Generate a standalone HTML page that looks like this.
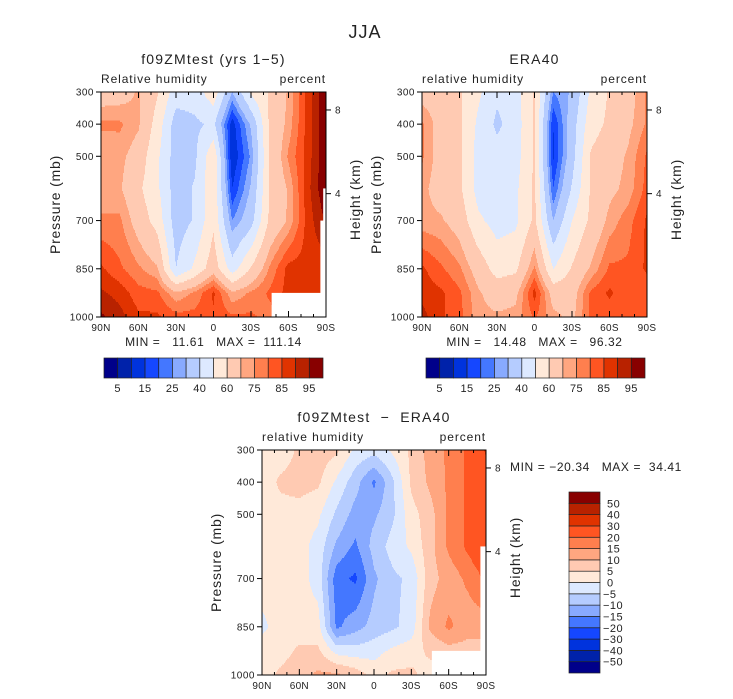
<!DOCTYPE html>
<html><head><meta charset="utf-8">
<style>
body{margin:0;background:#fff;}
svg{display:block;font-family:"Liberation Sans",sans-serif;}
text{fill:#222;white-space:pre;}
</style></head>
<body>
<svg id="root" width="733" height="699" viewBox="0 0 733 699" xmlns="http://www.w3.org/2000/svg">
<text x="365" y="38" font-size="18" letter-spacing="1" text-anchor="middle">JJA</text>
</svg>
<script>
// ---- data ----
const lats = ["90N","75N","60N","45N","30N","15N","0","15S","30S","45S","60S","75S","90S"];
const levels = [300,400,500,600,700,850,925,1000];
const latLabels = ["90N","60N","30N","0","30S","60S","90S"];
const pLabels = [300,400,500,700,850,1000];
const hLabels = [8,4];
const rhBounds = [5,10,15,20,25,30,40,50,60,70,75,80,85,90,95];
const rhTickLabels = ["5","15","25","40","60","75","85","95"];
const diffBounds = [-50,-40,-30,-20,-15,-10,-5,0,5,10,15,20,30,40,50];
const diffTickLabels = ["-50","-40","-30","-20","-15","-10","-5","0","5","10","15","20","30","40","50"];
const palette = ["#00008a","#0022aa","#0033dd","#1547ff","#4477ff","#88aaff","#b5ccff","#dde9ff","#ffe9d9","#ffcab2","#ffa680","#ff7f4e","#ff5522","#e03300","#b82200","#880000"];
// rows: latitude (90N..90S), cols: pressure levels
const model = [
 [65,76,71,71,76,86,91,96],[66,76,72,71,76,81,88,92],[71,71,66,62,66,76,82,86],
 [61,56,52,52,56,71,81,86],[45,35,35,35,35,40,71,82],[45,38,38,41,41,52,76,82],
 [56,42,58,58,58,66,86,84],[30,12,10,15,25,45,71,81],[52,31,26,31,36,61,76,81],
 [61,62,61,61,62,76,81,78],[71,72,76,71,71,87,87,81],[87,87,87,88,87,87,87,82],
 [100,100,100,100,96,87,87,82]];
const era = [
 [66,76,76,72,72,86,88,92],[66,66,66,66,71,81,86,86],[61,62,62,62,66,76,81,82],
 [52,48,46,46,52,66,71,72],[42,38,44,45,46,56,66,71],[46,45,46,48,48,58,68,72],
 [61,61,61,62,62,76,87,81],[25,15,14,20,30,50,66,72],[31,35,36,41,50,61,66,68],
 [52,56,61,61,62,71,81,81],[61,62,66,68,72,81,86,82],[66,68,71,72,78,81,81,82],
 [76,76,81,82,86,86,82,81]];
const diff = [
 [2,2,2,2,2,-1,2,3],[2,6,3,2,2,2,3,6],[6,7,3,2,2,2,6,8],
 [8,6,1,-2,-2,2,6,11],[6,-1,-6,-11,-18,-16,-2,11],[-1,-8,-12,-16,-21,-12,-3,8],
 [-3,-16,-11,-8,-11,-8,-2,3],[1,-6,-6,-3,-6,-6,1,6],[6,6,3,1,-4,-3,3,6],
 [12,11,8,8,8,11,6,3],[16,16,16,16,12,16,8,6],[21,21,21,21,16,12,8,6],
 [31,26,26,26,21,12,8,6]];
// missing-data regions: [lat index from, lat index to, p from, p to]
const missing1 = [[9.1,12,925,1000],[11.7,12,700,1000],[11.85,12,600,1000]];
const missing3 = [[9.1,12,925,1000],[11.7,12,600,1000]];

const NS="http://www.w3.org/2000/svg";
const root=document.getElementById('root');
function mk(tag,attrs,parent){const e=document.createElementNS(NS,tag);for(const k in attrs)e.setAttribute(k,attrs[k]);(parent||root).appendChild(e);return e;}
function txt(s,x,y,size,anchor,parent,ls){const t=mk('text',{x:x,y:y,'font-size':size,'text-anchor':anchor||'middle','letter-spacing':ls||0},parent);t.textContent=s;return t;}
function levelIndex(v,b){let i=0;while(i<b.length&&v>=b[i])i++;return i;}
function interp(field,fi,p){
  let i0=Math.min(Math.floor(fi),lats.length-2);let ti=fi-i0;
  let j0=0;while(j0<levels.length-2&&p>levels[j0+1])j0++;
  let tj=(p-levels[j0])/(levels[j0+1]-levels[j0]);tj=Math.max(0,Math.min(1,tj));
  const a=field[i0][j0],b=field[i0+1][j0],c=field[i0][j0+1],d=field[i0+1][j0+1];
  return a*(1-ti)*(1-tj)+b*ti*(1-tj)+c*(1-ti)*tj+d*ti*tj;
}
function heightToP(h){return 1013*Math.pow(1-2.2557e-5*h*1000,5.256);}
function panel(o){
  const g=mk('g',{});
  
  
  const X=fi=>o.x0+fi/(lats.length-1)*(o.x1-o.x0);
  const Y=p=>o.y0+(p-300)/700*(o.y1-o.y0);
  const Xinv=x=>(x-o.x0)/(o.x1-o.x0)*(lats.length-1);
  const Yinv=y=>300+(y-o.y0)/(o.y1-o.y0)*700;
  const fill=mk('g',{'shape-rendering':'crispEdges'},g);
  
  
  const step=1.5;
  for(let y=o.y0;y<o.y1;y+=step){
    const p=Yinv(y+step/2);let runStart=o.x0,runC=null;
    for(let x=o.x0;x<=o.x1;x+=1){
      let c=null;
      if(x<o.x1){c=levelIndex(interp(o.field,Math.min(Xinv(x+0.5),lats.length-1),p),o.bounds);}
      if(c!==runC){
        if(runC!==null){mk('rect',{x:runStart,y:y,width:x-runStart,height:step+0.3,fill:palette[runC]},fill);}
        runStart=x;runC=c;
      }
    }
  }
  (o.missing||[]).forEach(m=>{
    const r=mk('rect',{x:X(m[0]),y:Y(m[2]),width:X(m[1])-X(m[0])+1,height:Y(m[3])-Y(m[2])+1,fill:'#fff'},g);
    
    
  });
  const frame=mk('rect',{x:o.x0,y:o.y0,width:o.x1-o.x0,height:o.y1-o.y0,fill:'none',stroke:'#000','stroke-width':1},g);
  
  
  for(let k=0;k<=18;k++){
    const x=o.x0+k/18*(o.x1-o.x0);const major=k%3===0;
    mk('line',{x1:x,x2:x,y1:o.y0,y2:o.y0+(major?6:3),stroke:'#000'},g);
    mk('line',{x1:x,x2:x,y1:o.y1,y2:o.y1-(major?6:3),stroke:'#000'},g);
  }
  latLabels.forEach((s,k)=>{const t=txt(s,X(k*2),o.y1+14,10,'middle',g,0.3);
    });
  pLabels.forEach(p=>{mk('line',{x1:o.x0-5,x2:o.x0,y1:Y(p),y2:Y(p),stroke:'#000'},g);
    const t=txt(String(p),o.x0-7,Y(p)+3.5,10,'end',g,0.5);
    });
  hLabels.forEach(h=>{const y=Y(heightToP(h));
    mk('line',{x1:o.x1,x2:o.x1+5,y1:y,y2:y,stroke:'#000'},g);
    const t=txt(String(h),o.x1+9,y+3.5,10,'start',g);
    });
  const yc=(o.y0+o.y1)/2;
  const pl=txt('Pressure (mb)',0,0,14,'middle',g,0.8);pl.setAttribute('transform',`translate(${o.x0-41},${yc}) rotate(-90)`);
  
  const hl=txt('Height (km)',0,0,14,'middle',g,0.8);hl.setAttribute('transform',`translate(${o.x1+34},${yc-5}) rotate(-90)`);
  
  const ti=txt(o.title,(o.x0+o.x1)/2,o.y0-28,14,'middle',g,1.2);
  const l=txt(o.left,o.x0,o.y0-9,12,'start',g,0.9);
  const r=txt('percent',o.x1,o.y0-9,12,'end',g,0.9);
  if(o.minmax){const m=txt(o.minmax,(o.x0+o.x1)/2,o.y1+29,12,'middle',g,0.6);}
}
panel({name:'model-panel',field:model,bounds:rhBounds,x0:101,x1:326,y0:92,y1:317,title:'f09ZMtest (yrs 1\u22125)',left:'Relative humidity',minmax:'MIN =   11.61   MAX =  111.14',missing:missing1});
panel({name:'era40-panel',field:era,bounds:rhBounds,x0:422,x1:647,y0:92,y1:317,title:'ERA40',left:'relative humidity',minmax:'MIN =   14.48   MAX =   96.32'});
panel({name:'difference-panel',field:diff,bounds:diffBounds,x0:262,x1:486,y0:450,y1:675,title:'f09ZMtest  \u2212  ERA40',left:'relative humidity',missing:missing3});
const mm=txt('MIN = \u221220.34   MAX =  34.41',510,471,12,'start',null,0.6);


function hbar(x0,x1,y0,y1,name){
  const g=mk('g',{});
  const w=(x1-x0)/palette.length;
  palette.forEach((c,i)=>{const r=mk('rect',{x:x0+i*w,y:y0,width:w,height:y1-y0,fill:c,stroke:'#222','stroke-width':0.7},g);
    });
  rhTickLabels.forEach((s,k)=>{const t=txt(s,x0+(2*k+1)*w,y1+14,11,'middle',g,0.5);
    });
}
hbar(104,323,358,378,'model-colorbar');
hbar(426,645,358,378,'era40-colorbar');
(function(){
  const x0=569,x1=600,y0=492,y1=673;const g=mk('g',{});
  
  const h=(y1-y0)/palette.length;
  palette.forEach((c,i)=>{const r=mk('rect',{x:x0,y:y1-(i+1)*h,width:x1-x0,height:h,fill:c,stroke:'#222','stroke-width':0.7},g);
    });
  diffTickLabels.forEach((s,k)=>{const t=txt(s.replace('-','\u2212'),s[0]==='-'?603:607,y1-(k+1)*h+4,11,'start',g,0.5);
    });
})();
</script>
</body></html>
